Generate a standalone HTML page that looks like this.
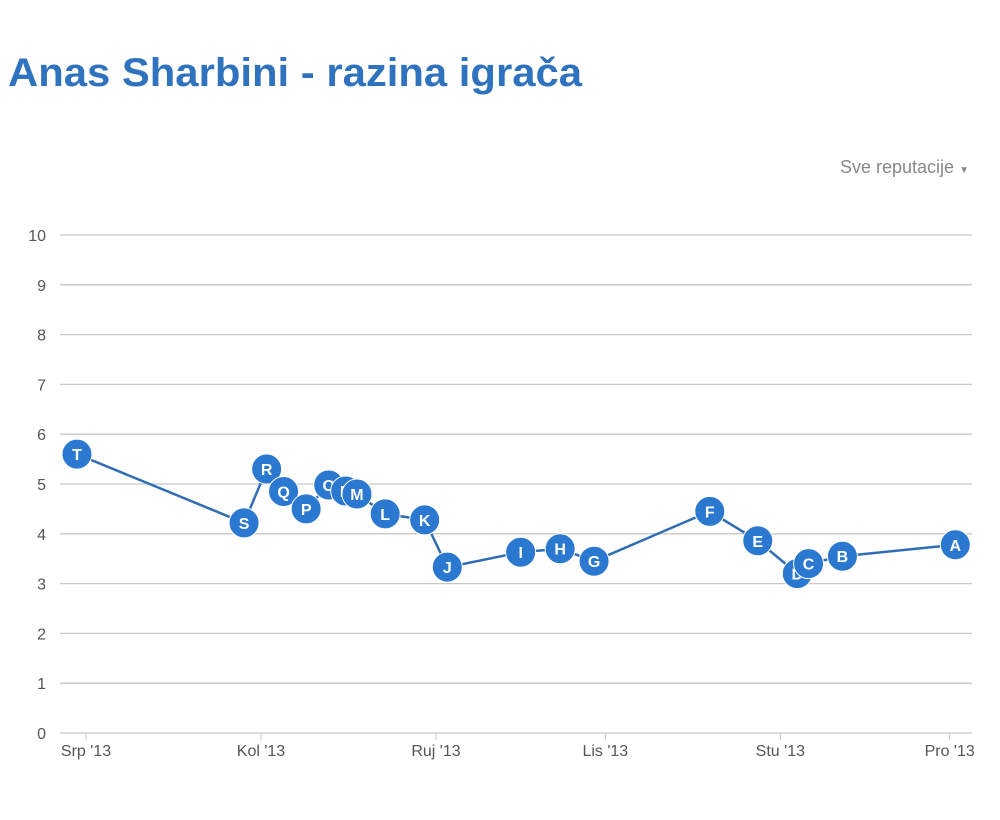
<!DOCTYPE html>
<html><head><meta charset="utf-8"><style>
body{margin:0;background:#fff;width:1000px;height:815px;overflow:hidden;font-family:"Liberation Sans",sans-serif;}
</style></head><body>
<svg id="chart" width="1000" height="815" xmlns="http://www.w3.org/2000/svg">
<text x="8" y="86" font-size="40" font-weight="bold" fill="#2f72bd" textLength="574" lengthAdjust="spacingAndGlyphs">Anas Sharbini - razina igrača</text>
<text x="840" y="173" font-size="18" fill="#888">Sve reputacije <tspan font-size="10">▼</tspan></text>
<g id="grid"></g><g id="xaxis"></g><g id="series"></g>
</svg>
<script>
const yTicks=[0,1,2,3,4,5,6,7,8,9,10];
const monthLabels=["Srp '13","Kol '13","Ruj '13","Lis '13","Stu '13","Pro '13"];
const monthDays=[0,31,62,92,123,153];
const pointLabels=["T","S","R","Q","P","O","N","M","L","K","J","I","H","G","F","E","D","C","B","A"];
const pointDays=[-1.6,28,32,35,39,43,46,48,53,60,64,77,84,90,110.5,119,126,128,134,154];
const pointValues=[5.6,4.22,5.3,4.85,4.5,4.98,4.86,4.8,4.4,4.28,3.33,3.63,3.7,3.45,4.45,3.86,3.2,3.4,3.55,3.78];
const NS="http://www.w3.org/2000/svg";
const x=d=>86+d*5.645, y=v=>733-v*49.8;
function mk(tag,attrs,parent){const e=document.createElementNS(NS,tag);for(const k in attrs)e.setAttribute(k,attrs[k]);parent.appendChild(e);return e;}
const grid=document.getElementById('grid'),xa=document.getElementById('xaxis'),s=document.getElementById('series');
yTicks.forEach(t=>{
 const l=mk('line',{x1:60,x2:972,y1:y(t),y2:y(t),stroke:'#c8c8c8','stroke-width':1.3},grid);
 
 
 const tx=mk('text',{x:46,y:y(t)+6,'font-size':16,fill:'#555','text-anchor':'end'},grid);tx.textContent=t;
 
 
});
monthLabels.forEach((m,i)=>{
 const xx=x(monthDays[i]);
 mk('line',{x1:xx,x2:xx,y1:733,y2:740,stroke:'#c8c8c8'},xa);
 const tx=mk('text',{x:xx,y:756,'font-size':16,fill:'#555','text-anchor':'middle'},xa);tx.textContent=m;
 
 
});
const pts=pointDays.map((d,i)=>x(d)+','+y(pointValues[i])).join(' ');
const pl=mk('polyline',{points:pts,fill:'none',stroke:'#2e6db5','stroke-width':2.5},s);


pointDays.forEach((d,i)=>{
 const g=mk('g',{},s);
 
 
 mk('circle',{cx:x(d),cy:y(pointValues[i]),r:15,fill:'#2a78d0',stroke:'#fff','stroke-width':1},g);
 const t=mk('text',{x:x(d),y:y(pointValues[i])+6,'font-size':16,'font-weight':'bold',fill:'#fff','text-anchor':'middle'},g);t.textContent=pointLabels[i];
});
</script>
</body></html>
